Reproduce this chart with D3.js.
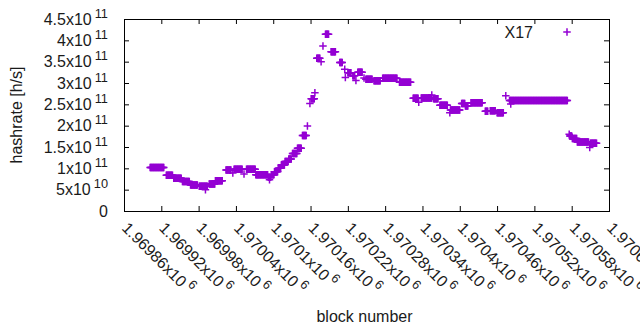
<!DOCTYPE html>
<html><head><meta charset="utf-8">
<script src="https://cdn.jsdelivr.net/npm/d3@7"></script>
<style>
body{margin:0;background:#fff}
svg{display:block}
text{font-family:"Liberation Sans",Arial,sans-serif;fill:#1a1a1a}
</style>
</head><body>
<svg id="c" width="640" height="330"></svg>
<script>
// ---- data (runs of constant hashrate per block) ----
const seriesName = "X17";
const runStart = [1969902,1969928,1969940,1969954,1969967,1969981,1969991,1969997,1970007,1970024,
  1970035,1970037,1970053,1970057,1970072,1970092,1970094,1970097,1970102,1970108,
  1970113,1970119,1970125,1970131,1970139,1970147,1970155,1970159,1970161,1970167,
  1970170,1970177,1970180,1970184,1970193,1970207,1970215,1970216,1970220,1970228,
  1970233,1970236,1970246,1970249,1970262,1970276,1970303,1970325,1970334,1970338,
  1970355,1970358,1970368,1970384,1970385,1970403,1970409,1970418,1970441,1970449,
  1970460,1970474,1970480,1970482,1970576,1970577,1970581,1970589,1970609,1970610];
const runEnd = [1969924,1969938,1969952,1969965,1969978,1969994,1969991,1970006,1970018,1970032,
  1970035,1970050,1970053,1970071,1970091,1970096,1970094,1970101,1970107,1970112,
  1970118,1970124,1970129,1970138,1970145,1970153,1970155,1970159,1970166,1970167,
  1970175,1970177,1970180,1970189,1970200,1970211,1970215,1970216,1970225,1970231,
  1970233,1970243,1970246,1970259,1970272,1970299,1970321,1970333,1970334,1970355,
  1970355,1970365,1970380,1970384,1970400,1970408,1970413,1970436,1970445,1970457,
  1970470,1970474,1970573,1970482,1970576,1970580,1970588,1970607,1970609,1970620];
const runValue = [1.02e11,8.4e10,7.7e10,6.9e10,6.1e10,5.8e10,5.0e10,6.3e10,7.1e10,9.6e10,
  8.9e10,9.8e10,8.7e10,9.8e10,8.5e10,7.9e10,7.3e10,8.5e10,9.2e10,1.0e11,
  1.08e11,1.16e11,1.22e11,1.35e11,1.47e11,1.77e11,1.99e11,2.52e11,2.63e11,2.77e11,
  3.58e11,3.50e11,3.87e11,4.14e11,3.73e11,3.48e11,3.32e11,3.13e11,3.24e11,3.17e11,
  3.06e11,3.25e11,3.12e11,3.09e11,3.05e11,3.11e11,3.02e11,2.64e11,2.55e11,2.65e11,
  2.72e11,2.63e11,2.48e11,2.30e11,2.37e11,2.52e11,2.46e11,2.54e11,2.34e11,2.35e11,
  2.30e11,2.70e11,2.59e11,2.51e11,1.80e11,1.76e11,1.70e11,1.62e11,1.49e11,1.59e11];

const yTickValues = [0,5e10,1e11,1.5e11,2e11,2.5e11,3e11,3.5e11,4e11,4.5e11];
const yTickMantissa = ["0","5x10","1x10","1.5x10","2x10","2.5x10","3x10","3.5x10","4x10","4.5x10"];
const yTickExponent = ["","10","11","11","11","11","11","11","11","11"];
const xTickValues = [1969860,1969920,1969980,1970040,1970100,1970160,1970220,1970280,1970340,1970400,1970460,1970520,1970580,1970640];
const xTickMantissa = ["1.96986","1.96992","1.96998","1.97004","1.9701","1.97016","1.97022","1.97028","1.97034","1.9704","1.97046","1.97052","1.97058","1.97064"];
const xTickExponent = "6";
const xTitle = "block number";
const yTitle = "hashrate [h/s]";

// ---- build per-block points from runs ----
const points = [];
runStart.forEach((s,i)=>{ for(let b=s;b<=runEnd[i];b++) points.push({b:b,v:runValue[i]}); });

const color = "#9400d3";
const svg = d3.select("#c");
const L=124, R=609, T=19, B=211;
const x = d3.scaleLinear().domain([1969860,1970640]).range([L,R]);
const y = d3.scaleLinear().domain([0,4.5e11]).range([B,T]);
const tick = 5;

// axes (inward ticks, mirrored)
function styleAxis(g){ g.select(".domain").remove(); g.selectAll("line").attr("stroke","#000").attr("stroke-width",1); g.selectAll("text").remove(); }
svg.append("g").attr("transform",`translate(0,${B})`).call(d3.axisBottom(x).tickValues(xTickValues).tickSize(-tick)).call(styleAxis);
svg.append("g").attr("transform",`translate(0,${T})`).call(d3.axisTop(x).tickValues(xTickValues).tickSize(-tick)).call(styleAxis);
svg.append("g").attr("transform",`translate(${L},0)`).call(d3.axisLeft(y).tickValues(yTickValues).tickSize(-tick)).call(styleAxis);
svg.append("g").attr("transform",`translate(${R},0)`).call(d3.axisRight(y).tickValues(yTickValues).tickSize(-tick)).call(styleAxis);

// frame
svg.append("rect").attr("x",L+0.5).attr("y",T+0.5).attr("width",R-L).attr("height",B-T)
  .attr("fill","none").attr("stroke","#000").attr("stroke-width",1);

// y tick labels
const yl = svg.append("g").attr("font-size",16).attr("text-anchor","end");
yTickValues.forEach((v,i)=>{
  const t = yl.append("text").attr("x",108).attr("y",y(v)+5.5);
  if(yTickExponent[i]){
    t.append("tspan").text(yTickMantissa[i]);
    t.append("tspan").attr("dx",3).attr("dy",-7).attr("font-size",12.8).text(yTickExponent[i]);
  } else t.text(yTickMantissa[i]);
});

// x tick labels rotated
const xl = svg.append("g").attr("font-size",16);
xTickValues.forEach((v,i)=>{
  const t = xl.append("text").attr("transform",`translate(${x(v)-3},${229}) rotate(45)`);
  t.append("tspan").text(xTickMantissa[i]+"x10");
  t.append("tspan").attr("dx",3).attr("dy",-7).attr("font-size",12.8).text(xTickExponent);
});

// titles
svg.append("text").attr("x",364.5).attr("y",321.5).attr("text-anchor","middle").attr("font-size",16).text(xTitle);
svg.append("text").attr("transform",`translate(21.5,115) rotate(-90)`).attr("text-anchor","middle").attr("font-size",16).text(yTitle);

// points
const hs = 3.75;
const plus = `M${-hs},0H${hs}M0,${-hs}V${hs}`;
svg.append("g").attr("clip-path",null).selectAll("path.pt").data(points).enter().append("path")
  .attr("class","pt").attr("transform",d=>`translate(${x(d.b)},${y(d.v)})`)
  .attr("d",plus).attr("stroke",color).attr("stroke-width",1.5).attr("fill","none");

// legend
svg.append("text").attr("x",533).attr("y",37.5).attr("text-anchor","end").attr("font-size",16).text(seriesName);
svg.append("path").attr("transform","translate(567,32)").attr("d",plus).attr("stroke",color).attr("stroke-width",1.5).attr("fill","none");
</script>
</body></html>
